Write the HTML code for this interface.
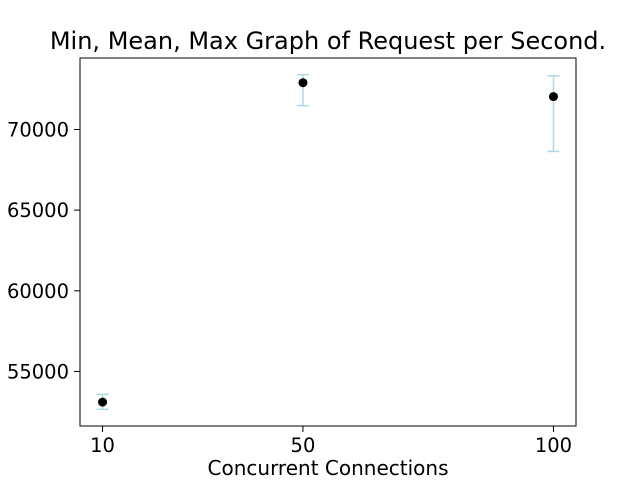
<!DOCTYPE html>
<html><head><meta charset="utf-8"><style>
body{margin:0;background:#fff;font-family:"DejaVu Sans",sans-serif;}
</style></head><body>
<svg id="chart" width="640" height="480" viewBox="0 0 640 480" xmlns="http://www.w3.org/2000/svg" font-family="DejaVu Sans, sans-serif">
<rect x="0" y="0" width="640" height="480" fill="#fff"/>
<text x="328" y="49" font-size="24" text-anchor="middle" fill="#000">Min, Mean, Max Graph of Request per Second.</text>
<g id="ticks"></g>
<g id="marks"></g>
<rect x="80" y="58" width="496" height="368" fill="none" stroke="#000" stroke-width="1"/>
<text x="328" y="475" font-size="20" text-anchor="middle" fill="#000">Concurrent Connections</text>
</svg>
<script>
const categories = [10, 50, 100];
const meanValues = [53100, 72900, 72040];
const minValues = [52650, 71480, 68640];
const maxValues = [53580, 73400, 73330];
const yTicks = [55000, 60000, 65000, 70000];
const xTicks = [10, 50, 100];

const NS = "http://www.w3.org/2000/svg";
const L = 80, R = 576, T = 58, B = 426;
const xMin = 5.5, xMax = 104.5;
const yMin = 51617, yMax = 74432;
function xs(v){ return L + (v - xMin) / (xMax - xMin) * (R - L); }
function ys(v){ return B - (v - yMin) / (yMax - yMin) * (B - T); }
function mk(tag, attrs, parent){
  const e = document.createElementNS(NS, tag);
  for (const k in attrs) e.setAttribute(k, attrs[k]);
  parent.appendChild(e);
  return e;
}
const tg = document.getElementById('ticks');
const mg = document.getElementById('marks');
yTicks.forEach(v => {
  const y = ys(v);
  const l = mk('line', {x1: L - 6, x2: L, y1: y, y2: y, stroke: '#000'}, tg);
  
  
  const t = mk('text', {x: L - 11, y: y + 7, 'font-size': 19.5, 'text-anchor': 'end', fill: '#000'}, tg);
  t.textContent = v;
  
  
});
xTicks.forEach(v => {
  const x = xs(v);
  const l = mk('line', {x1: x, x2: x, y1: B, y2: B + 6, stroke: '#000'}, tg);
  
  
  const t = mk('text', {x: x, y: B + 26, 'font-size': 19.5, 'text-anchor': 'middle', fill: '#000'}, tg);
  t.textContent = v;
  
  
});
categories.forEach((c, i) => {
  const x = xs(c);
  const g = mk('g', {}, mg);
  
  
  const col = '#add8e6';
  mk('line', {x1: x, x2: x, y1: ys(minValues[i]), y2: ys(maxValues[i]), stroke: col, 'stroke-width': 1.5}, g);
  mk('line', {x1: x - 6, x2: x + 6, y1: ys(minValues[i]), y2: ys(minValues[i]), stroke: col, 'stroke-width': 1.5}, g);
  mk('line', {x1: x - 6, x2: x + 6, y1: ys(maxValues[i]), y2: ys(maxValues[i]), stroke: col, 'stroke-width': 1.5}, g);
  const p = mk('circle', {cx: x, cy: ys(meanValues[i]), r: 4.5, fill: '#000'}, mg);
  
  
});
</script>
</body></html>
